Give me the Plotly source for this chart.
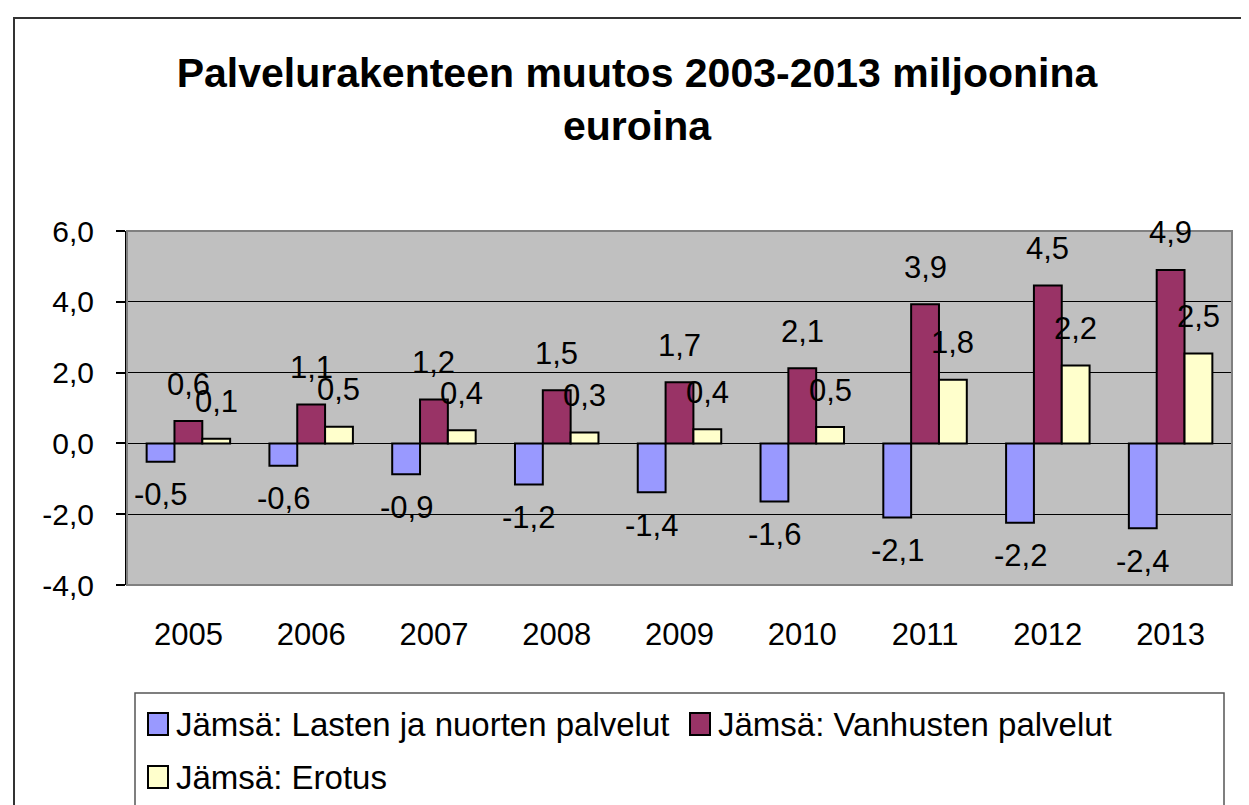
import plotly.graph_objects as go

# Datos del gráfico (miljoonaa euroa)
years = ["2005", "2006", "2007", "2008", "2009", "2010", "2011", "2012", "2013"]
series_names = ["Jämsä: Lasten ja nuorten palvelut", "Jämsä: Vanhusten palvelut", "Jämsä: Erotus"]
lasten = [-0.52, -0.63, -0.87, -1.16, -1.38, -1.64, -2.09, -2.24, -2.40]
vanhusten = [0.63, 1.10, 1.24, 1.50, 1.73, 2.12, 3.93, 4.46, 4.90]
erotus = [0.13, 0.47, 0.37, 0.31, 0.40, 0.46, 1.80, 2.20, 2.54]
y_ticks = [-4, -2, 0, 2, 4, 6]
colors = ["#9999FF", "#993366", "#FFFFCC"]

FONT = "Liberation Sans, Arial, sans-serif"


def fmt(v):
    # formato finlandés con coma decimal
    return f"{v:.1f}".replace(".", ",")


# geometría del área del gráfico en píxeles
W, H = 1249, 805
L, R, T, B = 119, 1224, 223, 577
BARGAP = 0.32


def px_x(p):
    return (p - L) / (R - L)


def px_y(p):
    return (B - p) / (B - T)


all_series = [lasten, vanhusten, erotus]

fig = go.Figure()
for name, vals, col in zip(series_names, all_series, colors):
    fig.add_trace(go.Bar(
        x=years, y=vals, name=name,
        marker=dict(color=col, line=dict(color="black", width=2)),
        showlegend=False,
    ))

fig.update_layout(
    width=W, height=H,
    margin=dict(l=L, r=W - R, t=T, b=H - B),
    paper_bgcolor="white",
    plot_bgcolor="#C0C0C0",
    barmode="group",
    bargap=BARGAP,
    bargroupgap=0,
    font=dict(family=FONT, color="black"),
    title=dict(
        text="<b>Palvelurakenteen muutos 2003-2013 miljoonina<br>euroina</b>",
        x=629 / W, xanchor="center",
        y=1 - 79 / H, yanchor="top",
        font=dict(size=41, family=FONT, color="black"),
    ),
    xaxis=dict(
        type="category",
        range=[-0.5, len(years) - 0.5],
        showgrid=False, ticks="", zeroline=False,
        tickfont=dict(size=31),
        ticklabelstandoff=28,
        showline=False,
    ),
    # eje auxiliar en y=0 con las marcas entre categorías
    xaxis2=dict(
        overlaying="x", anchor="free", position=0.4,
        range=[-0.5, len(years) - 0.5],
        tick0=0.5, dtick=1,
        ticks="outside", ticklen=8, tickwidth=1.5, tickcolor="black",
        showline=True, linecolor="black", linewidth=1.5,
        showticklabels=False, showgrid=False, zeroline=False,
    ),
    yaxis=dict(
        range=[-4, 6],
        tickvals=y_ticks,
        ticktext=[fmt(v) for v in y_ticks],
        tickfont=dict(size=30),
        ticks="outside", ticklen=9, tickcolor="black", tickwidth=1.5,
        ticklabelstandoff=16,
        showgrid=True, gridcolor="black", gridwidth=1,
        zeroline=False,
        showline=True, linecolor="black", linewidth=2,
    ),
)

shapes = [
    # marco exterior del gráfico
    dict(type="rect", xref="paper", yref="paper",
         x0=px_x(6), x1=px_x(1262), y0=px_y(822), y1=px_y(10),
         line=dict(color="#333333", width=2), fillcolor="rgba(0,0,0,0)", layer="below"),
    # borde del área de trazado
    dict(type="rect", xref="paper", yref="paper",
         x0=0, x1=1, y0=0, y1=1,
         line=dict(color="#808080", width=2), fillcolor="rgba(0,0,0,0)", layer="above"),
    # caja de la leyenda
    dict(type="rect", xref="paper", yref="paper",
         x0=px_x(127), x1=px_x(1216), y0=px_y(800), y1=px_y(685),
         line=dict(color="#555555", width=1.5), fillcolor="white", layer="below"),
]

annotations = []

# etiquetas de datos: centradas sobre cada barra, como en Excel
# (x como índice de categoría, para no confundir "2005" con un número)
cat_w = (R - L) / len(years)
bar_w = cat_w * (1 - BARGAP) / len(all_series)
for i, vals in enumerate(all_series):
    offset = (i - (len(all_series) - 1) / 2) * bar_w
    for j, v in enumerate(vals):
        annotations.append(dict(
            xref="x", yref="y", x=j, y=v,
            xshift=offset, yshift=37 if v >= 0 else -33,
            xanchor="center", yanchor="middle", showarrow=False,
            text=fmt(v), font=dict(size=31, family=FONT, color="black"),
        ))

# leyenda manual: dos entradas en la primera fila, una en la segunda
legend_pos = [(140, 716), (682, 716), (140, 769)]
for name, col, (lx, ly) in zip(series_names, colors, legend_pos):
    shapes.append(dict(type="rect", xref="paper", yref="paper",
                       x0=px_x(lx), x1=px_x(lx + 20), y0=px_y(ly + 11), y1=px_y(ly - 11),
                       line=dict(color="black", width=2), fillcolor=col))
    annotations.append(dict(xref="paper", yref="paper", x=px_x(lx + 26), y=px_y(ly),
                            xanchor="left", yanchor="middle", showarrow=False,
                            text=name, font=dict(size=33, family=FONT, color="black")))

fig.update_layout(shapes=shapes, annotations=annotations)

fig.write_html("out.html")
